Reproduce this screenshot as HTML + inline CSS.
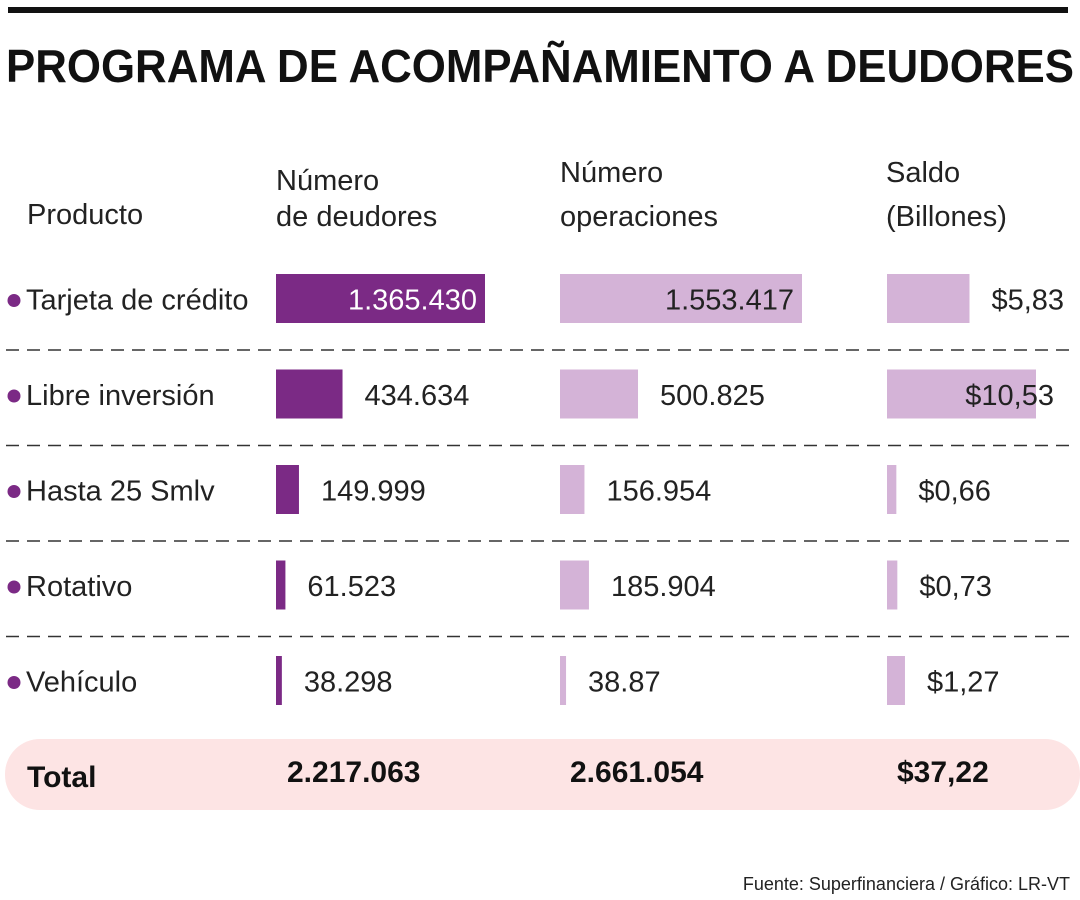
<!DOCTYPE html>
<html><head><meta charset="utf-8"><style>
html,body{margin:0;padding:0;background:#fff}
svg{display:block;font-family:"Liberation Sans",sans-serif}
</style></head><body>
<svg id="chart" width="1080" height="900" viewBox="0 0 1080 900" xmlns="http://www.w3.org/2000/svg">
<rect x="8" y="7" width="1060" height="6" fill="#111"/>
<text x="6" y="82" font-size="46" font-weight="bold" fill="#111" textLength="1068" lengthAdjust="spacingAndGlyphs">PROGRAMA DE ACOMPAÑAMIENTO A DEUDORES</text>
<g font-size="29" fill="#222">
<text x="27" y="224">Producto</text>
<text x="276" y="190">Número</text>
<text x="276" y="226">de deudores</text>
<text x="560" y="182">Número</text>
<text x="560" y="226">operaciones</text>
<text x="886" y="182">Saldo</text>
<text x="886" y="226">(Billones)</text>
</g>
<g id="rows"></g>
<rect x="5" y="739" width="1075" height="71" rx="35" fill="#fde4e4"/>
<g font-size="30" font-weight="bold" fill="#111">
<text x="27" y="787">Total</text>
<text x="287" y="782">2.217.063</text>
<text x="570" y="782">2.661.054</text>
<text x="897" y="782">$37,22</text>
</g>
<text x="1070" y="890" font-size="18" fill="#222" text-anchor="end">Fuente: Superfinanciera / Gráfico: LR-VT</text>
</svg>
<script>
const categories = ["Tarjeta de crédito","Libre inversión","Hasta 25 Smlv","Rotativo","Vehículo"];
const deudores = [1365430, 434634, 149999, 61523, 38298];
const deudoresLabels = ["1.365.430","434.634","149.999","61.523","38.298"];
const operaciones = [1553417, 500825, 156954, 185904, 38870];
const operacionesLabels = ["1.553.417","500.825","156.954","185.904","38.87"];
const saldo = [5.83, 10.53, 0.66, 0.73, 1.27];
const saldoLabels = ["$5,83","$10,53","$0,66","$0,73","$1,27"];

const NS = "http://www.w3.org/2000/svg";
const g = document.getElementById('rows');
const rowY = i => 274 + i * 95.5;
const barH = 49;
const cols = [
  {x0:276, scale:v=>v*209/1365430, vals:deudores, labs:deudoresLabels, fill:"#7b2a85", name:"deudores", limit:545},
  {x0:560, scale:v=>v*242/1553417, vals:operaciones, labs:operacionesLabels, fill:"#d4b3d7", name:"operaciones", limit:850},
  {x0:887, scale:v=>v*14.15, vals:saldo, labs:saldoLabels, fill:"#d4b3d7", name:"saldo", limit:1078}
];
function el(t, a){const e=document.createElementNS(NS,t);for(const k in a)e.setAttribute(k,a[k]);return e;}
categories.forEach((c,i)=>{
  const y = rowY(i), cy = y + barH/2 + 11;
  const dot = el('circle',{cx:14,cy:y+barH/2+2,r:6.5,fill:"#7b2a85"});
  
  
  g.appendChild(dot);
  const t = el('text',{x:26,y:cy,'font-size':29,fill:"#222"});
  t.textContent = c;
  
  
  g.appendChild(t);
  cols.forEach(col=>{
    const w = Math.max(4, col.scale(col.vals[i]));
    const r = el('rect',{x:col.x0,y:y,width:w,height:barH,fill:col.fill});
    
    
    g.appendChild(r);
    const lw = col.labs[i].length * 15;
    const lbl = el('text',{y:cy,'font-size':29});
    const end = col.x0 + w;
    if (end + 22 + lw > col.limit) {
      lbl.setAttribute('x', Math.min(end - 8 + (col.name==="saldo"?26:0), 1055));
      lbl.setAttribute('text-anchor','end');
      lbl.setAttribute('fill', col.fill==="#7b2a85" ? "#fff" : "#222");
    } else {
      lbl.setAttribute('x', end + 22);
      lbl.setAttribute('fill', "#222");
    }
    lbl.textContent = col.labs[i];
    
    
    g.appendChild(lbl);
  });
  if (i < categories.length - 1) {
    const ly = y + barH + 27;
    const ln = el('line',{x1:6,x2:1075,y1:ly,y2:ly,stroke:"#333",'stroke-width':1.5,'stroke-dasharray':"13 8"});
    
    
    g.appendChild(ln);
  }
});
</script>
</body></html>
